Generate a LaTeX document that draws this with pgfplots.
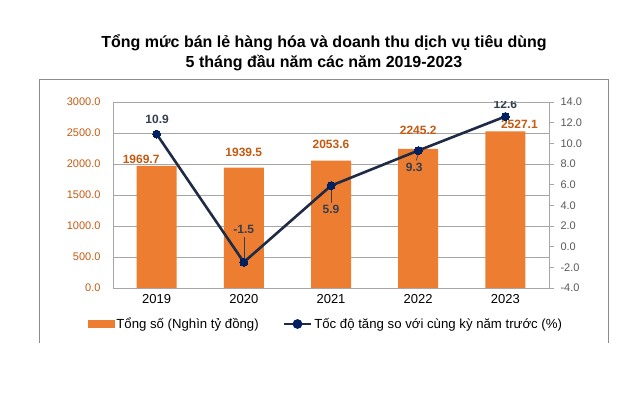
\documentclass[border=0pt]{standalone}
\usepackage{pgfplots}
\pgfplotsset{compat=1.18}
\usepackage{fontspec}
\setmainfont{Liberation Sans}
\definecolor{barorange}{HTML}{ED7D31}
\definecolor{lblorange}{HTML}{C55A11}
\definecolor{linenavy}{HTML}{1F2A44}
\definecolor{marknavy}{HTML}{002060}
\definecolor{linelbl}{HTML}{333F50}
\definecolor{gridgray}{HTML}{A6A6A6}
\definecolor{ticklbl}{HTML}{595959}
\definecolor{framegray}{HTML}{8C8C8C}
\begin{document}
\begin{tikzpicture}[x=1pt,y=1pt]
\path[use as bounding box,fill=white] (0,0) rectangle (644,396);
\draw[framegray, line width=0.8pt] (39,53) -- (39,317) -- (608,317) -- (608,53);
\node[font=\bfseries\fontsize{16}{19}\selectfont] at (324,353) {Tổng mức bán lẻ hàng hóa và doanh thu dịch vụ tiêu dùng};
\node[font=\bfseries\fontsize{16}{19}\selectfont] at (324,333) {5 tháng đầu năm các năm 2019-2023};

\begin{axis}[
  at={(113pt,108pt)}, anchor=south west, scale only axis,
  width=436pt, height=186pt,
  xmin=-0.5, xmax=4.5, ymin=0, ymax=3000,
  xtick={0,1,2,3,4}, xticklabels={2019,2020,2021,2022,2023},
  ytick={0,500,...,3000},
  ymajorgrids, grid style={gridgray, line width=0.7pt},
  axis y line*=left, axis x line*=bottom,
  axis line style={gridgray, line width=0.7pt, -},
  major tick length=0pt,
  xticklabel style={font=\fontsize{13}{15}\selectfont, text=black, yshift=-3pt},
  yticklabel style={font=\fontsize{11}{13}\selectfont, text=lblorange, xshift=-9pt},
  /pgf/number format/.cd, fixed, fixed zerofill, precision=1, 1000 sep={}, assume math mode=true,
]
\addplot[ybar, bar width=40pt, fill=barorange, draw=none] coordinates {(0,1969.7) (1,1939.5) (2,2053.6) (3,2245.2) (4,2527.1)};
\begin{scope}[every node/.style={font=\bfseries\fontsize{12}{14}\selectfont, text=lblorange, anchor=center}]
\node[xshift=-15.5pt, yshift=7pt] at (axis cs:0,1969.7) {1969.7};
\node[yshift=15pt] at (axis cs:1,1939.5) {1939.5};
\node[yshift=16pt] at (axis cs:2,2053.6) {2053.6};
\node[yshift=18pt] at (axis cs:3,2245.2) {2245.2};
\node[xshift=14pt, yshift=7pt] at (axis cs:4,2527.1) {2527.1};
\end{scope}
\end{axis}

\begin{axis}[
  at={(113pt,108pt)}, anchor=south west, scale only axis,
  width=436pt, height=186pt,
  xmin=-0.5, xmax=4.5, ymin=-4, ymax=14,
  axis x line=none, axis y line*=right,
  ytick={-4,-2,...,14},
  axis line style={gridgray, line width=0.7pt, -},
  tick style={gridgray, line width=0.7pt}, tick align=outside, major tick length=5pt,
  yticklabel style={font=\fontsize{11}{13}\selectfont, text=ticklbl, xshift=3pt},
  /pgf/number format/.cd, fixed, fixed zerofill, precision=1, assume math mode=true,
  /pgfplots/.cd,
  legend columns=2,
  legend style={at={(0.4885,-0.1935)}, anchor=center, draw=none, fill=none,
    font=\fontsize{13.2}{15}\selectfont, inner sep=0pt,
    /tikz/every even column/.append style={column sep=22pt}},
  legend cell align=left,
]
\addlegendimage{legend image code/.code={\fill[barorange] (0pt,-3.5pt) rectangle (26pt,3.5pt);}}
\addlegendentry{Tổng số (Nghìn tỷ đồng)}
\addplot[linenavy, line width=2.6pt, mark=*, mark size=4pt, mark options={fill=marknavy, draw=marknavy, line width=0pt},
  legend image code/.code={\draw[linenavy, line width=2.6pt] (0pt,0pt) -- (27pt,0pt); \fill[marknavy] (13.5pt,0pt) circle (3.5pt);}]
  coordinates {(0,10.9) (1,-1.5) (2,5.9) (3,9.3) (4,12.6)};
\addlegendentry{Tốc độ tăng so với cùng kỳ năm trước (\%)}
\draw[linelbl, line width=0.6pt] ([yshift=4pt]axis cs:1,-1.5) -- ([yshift=25pt]axis cs:1,-1.5);
\draw[linelbl, line width=0.6pt] ([yshift=-4pt]axis cs:2,5.9) -- ([yshift=-17pt]axis cs:2,5.9);
\draw[linelbl, line width=0.6pt] ([yshift=-4pt]axis cs:3,9.3) -- ([xshift=-2pt,yshift=-10pt]axis cs:3,9.3);
\begin{scope}[every node/.style={font=\bfseries\fontsize{12}{14}\selectfont, text=linelbl, anchor=center}]
\node[xshift=0.5pt, yshift=15pt] at (axis cs:0,10.9) {10.9};
\node[yshift=33pt] at (axis cs:1,-1.5) {-1.5};
\node[yshift=-24pt] at (axis cs:2,5.9) {5.9};
\node[xshift=-4pt, yshift=-17pt] at (axis cs:3,9.3) {9.3};
\node[yshift=12pt] at (axis cs:4,12.6) {12.6};
\end{scope}
\end{axis}
\end{tikzpicture}
\end{document}
